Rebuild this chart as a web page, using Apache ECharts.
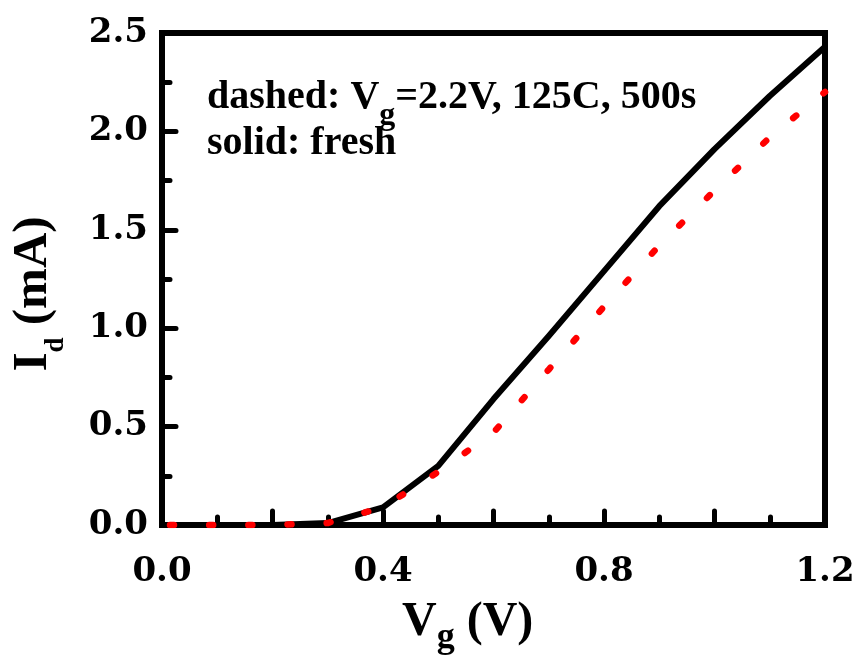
<!DOCTYPE html>
<html>
<head>
<meta charset="utf-8">
<script src="https://cdn.jsdelivr.net/npm/echarts@6/dist/echarts.min.js"></script>
<style>
  html, body { margin: 0; padding: 0; background: #fff; }
  #chart { width: 861px; height: 660px; }
</style>
</head>
<body>
<div id="chart"></div>
<script>
// Gate voltage sweep (V)
const gateVoltage = [0.0, 0.1, 0.2, 0.3, 0.4, 0.5, 0.6, 0.7, 0.8, 0.9, 1.0, 1.1, 1.2];
// Drain current (mA), fresh device
const freshCurrent = [0, 0, 0, 0.01, 0.09, 0.30, 0.64, 0.96, 1.29, 1.62, 1.91, 2.18, 2.43];
// Drain current (mA) after stress at Vg = 2.2 V, 125 C, 500 s
const stressedCurrent = [0, 0, 0, 0.01, 0.09, 0.27, 0.47, 0.79, 1.11, 1.42, 1.70, 1.97, 2.20];

const tickFont = 'DejaVu Serif';
const textFont = 'Liberation Serif';

const pairs = (xs, ys) => xs.map((x, i) => [x, ys[i]]);

const chart = echarts.init(document.getElementById('chart'), null, { renderer: 'canvas' });

const axisCommon = {
  axisLine: { show: true, onZero: false, lineStyle: { color: '#000', width: 6, cap: 'round' } },
  axisTick: { show: true, inside: true, length: 14, lineStyle: { color: '#000', width: 5, cap: 'round' } },
  minorTick: { show: true, splitNumber: 2, length: 8, lineStyle: { color: '#000', width: 5, cap: 'round' } },
  splitLine: { show: false },
  minorSplitLine: { show: false }
};

// rich-text styles: main run plus a lowered subscript run
function richStyles(size, lineH, subSize) {
  return {
    m: { fontFamily: textFont, fontWeight: 'bold', fontSize: size, lineHeight: lineH, fill: '#000', color: '#000' },
    s: { fontFamily: textFont, fontWeight: 'bold', fontSize: subSize, lineHeight: subSize, verticalAlign: 'bottom', fill: '#000', color: '#000' }
  };
}

// Lay out a row of plain text runs on a shared baseline; each run may drop below it.
const measureCtx = document.createElement('canvas').getContext('2d');
function textRow(x, baseline, runs) {
  const out = [];
  let cx = x;
  runs.forEach(r => {
    const font = 'bold ' + r.size + 'px "' + textFont + '"';
    measureCtx.font = font;
    out.push({
      type: 'text', x: cx, y: baseline + (r.drop || 0) - 0.79 * r.size, z: 10,
      style: {
        text: r.text, fontFamily: textFont, fontWeight: 'bold', fontSize: r.size,
        lineHeight: r.size, fill: '#000', verticalAlign: 'top', align: 'left'
      }
    });
    cx += measureCtx.measureText(r.text).width;
  });
  return out;
}

const noteLine1 = [
  { text: 'dashed: V', size: 40 },
  { text: 'g', size: 32, drop: 16 },
  { text: '=2.2V, 125C, 500s', size: 40 }
];
const noteLine2 = [{ text: 'solid: fresh', size: 40 }];

chart.setOption({
  animation: false,
  backgroundColor: '#fff',
  grid: {
    left: 162, right: 36, top: 33, bottom: 135,
    show: true, borderColor: '#000', borderWidth: 6, backgroundColor: 'transparent'
  },
  xAxis: Object.assign({
    type: 'value', min: 0, max: 1.2, interval: 0.2,
    axisLabel: {
      margin: 30, color: '#000', fontFamily: tickFont, fontWeight: 'bold', fontSize: 34,
      formatter: v => {
        const k = v / 0.4;
        return Math.abs(k - Math.round(k)) < 1e-6 ? v.toFixed(1) : '';
      }
    }
  }, axisCommon),
  yAxis: Object.assign({
    type: 'value', min: 0, max: 2.5, interval: 0.5,
    axisLabel: {
      margin: 14, color: '#000', fontFamily: tickFont, fontWeight: 'bold', fontSize: 34,
      formatter: v => v.toFixed(1)
    }
  }, axisCommon),
  series: [
    {
      name: 'fresh', type: 'line', data: pairs(gateVoltage, freshCurrent),
      showSymbol: false, symbol: 'none', clip: true, z: 3,
      lineStyle: { color: '#000', width: 6, type: 'solid', join: 'round', cap: 'round' }
    },
    {
      name: 'stressed', type: 'line', data: pairs(gateVoltage, stressedCurrent),
      showSymbol: false, symbol: 'none', clip: true, z: 4,
      lineStyle: { color: '#ff0000', width: 6.5, type: [4, 36], dashOffset: -8, cap: 'round', join: 'round' }
    }
  ],
  graphic: [].concat(
    textRow(207, 109, noteLine1),
    textRow(207, 155, noteLine2),
    [
      {
        type: 'text', x: 402, y: 589, z: 10,
        style: { text: '{m|V}{s|g}{m| (V)}', rich: richStyles(48, 67, 36) }
      },
      {
        type: 'text', x: -3, y: 294, rotation: Math.PI / 2, z: 10,
        style: {
          text: '{m|I}{s|d}{m| (mA)}', align: 'center', verticalAlign: 'top',
          rich: richStyles(49, 73, 27)
        }
      }
    ]
  )
});

// Space the dots so the pattern starts near the origin and ends on the last point.
(function fitDots() {
  const px = pairs(gateVoltage, stressedCurrent).map(p => chart.convertToPixel({ gridIndex: 0 }, p));
  let len = 0;
  for (let i = 1; i < px.length; i++) {
    len += Math.hypot(px[i][0] - px[i - 1][0], px[i][1] - px[i - 1][1]);
  }
  const start = 8, dash = 4;
  const span = len - dash / 2 - start;
  const n = Math.max(1, Math.round(span / 40));
  const period = span / n;
  chart.setOption({
    series: [{}, { lineStyle: { type: [dash, period - dash], dashOffset: -start } }]
  });
})();
</script>
</body>
</html>
